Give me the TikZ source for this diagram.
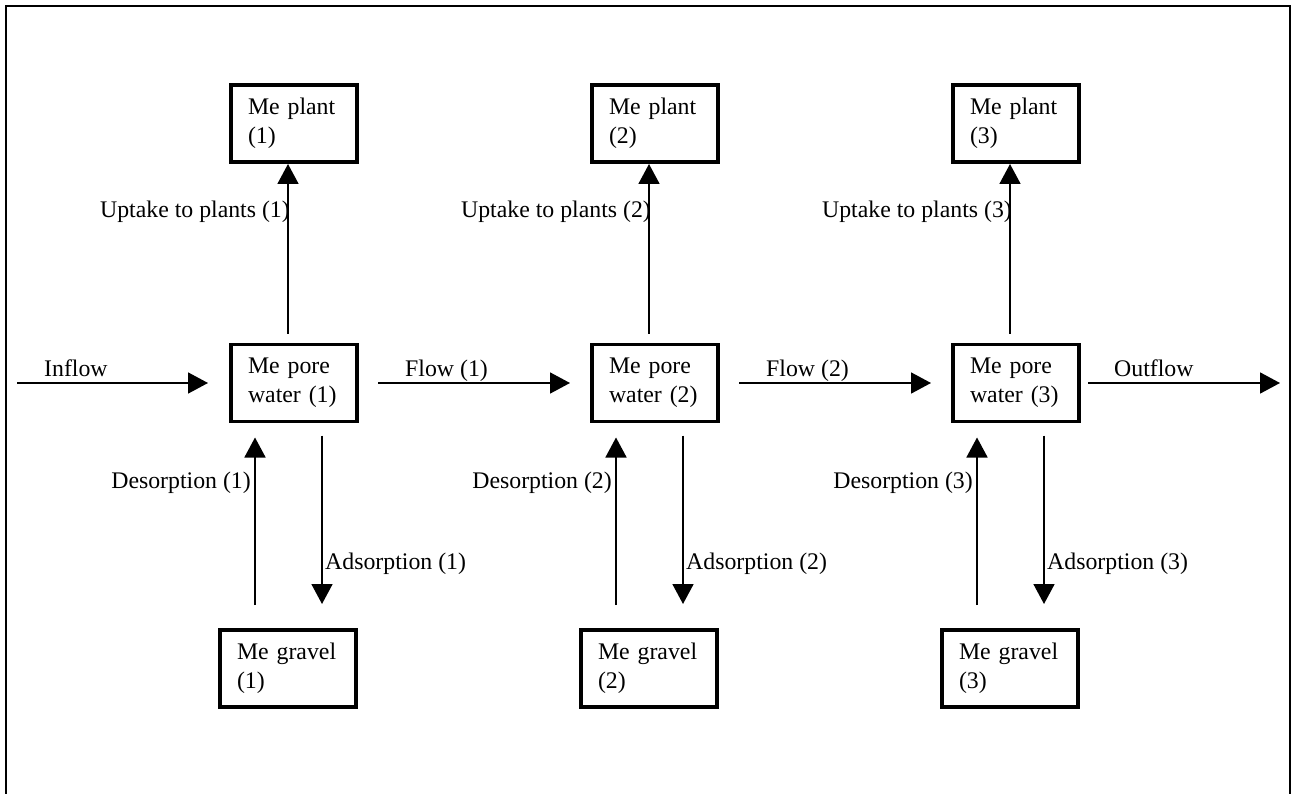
\documentclass[tikz,border=0pt]{standalone}
\usepackage{fontspec}
\setmainfont{Liberation Serif}
\usetikzlibrary{arrows.meta}
\begin{document}
\begin{tikzpicture}[x=1pt,y=-1pt,
  every node/.style={font=\fontsize{23.8}{29}\selectfont},
  plantbox/.style={draw,line width=3.6pt,outer sep=0pt,inner xsep=17pt,inner ysep=0pt,
    text width=92pt,minimum height=77pt,align=left},
  gravelbox/.style={plantbox,text width=102pt},
  arr/.style={line width=1.7pt,-{Triangle[width=21pt,length=20pt]}},
  lbl/.style={inner sep=0pt}]
\useasboundingbox (0,0) rectangle (1292,794);
\draw[line width=2pt] (5.5,794) -- (5.5,6.5) -- (1289.5,6.5) -- (1289.5,794);
\foreach \i/\cx in {1/294,2/655,3/1016}{
  \node[plantbox] (pl\i) at (\cx,123.5) {Me plant\\(\i)};
  \node[plantbox] (pw\i) at (\cx,383) {Me pore\\water (\i)};
  \node[gravelbox] (gr\i) at (\cx-6,668.5) {Me gravel\\(\i)};
  \draw[arr] ([xshift=-6pt,yshift=11pt]pw\i.north) -- ([xshift=-6pt,yshift=-2pt]pl\i.south);
  \draw[arr] ([xshift=-33pt,yshift=25pt]gr\i.north) -- ([xshift=-39pt,yshift=-16pt]pw\i.south);
  \draw[arr] ([xshift=28pt,yshift=-14pt]pw\i.south) -- ([xshift=34pt,yshift=26pt]gr\i.north);
  \node[lbl,anchor=base east] (up\i) at (\cx-4,218) {Uptake to plants (\i)};
  \node[lbl,anchor=base east] (de\i) at (\cx-43,488) {Desorption (\i)};
  \node[lbl,anchor=base west] (ad\i) at (\cx+31,569) {Adsorption (\i)};
}
\coordinate (in) at (17,383);
\coordinate (out) at (1280,383);
\draw[arr] (in) -- ([xshift=-23pt]pw1.west);
\draw[arr] ([xshift=21pt]pw1.east) -- ([xshift=-22pt]pw2.west);
\draw[arr] ([xshift=21pt]pw2.east) -- ([xshift=-22pt]pw3.west);
\draw[arr] ([xshift=9pt]pw3.east) -- (out);
\node[lbl,anchor=base west] (lin) at (44,376) {Inflow};
\node[lbl,anchor=base west] (lf1) at (405,376) {Flow (1)};
\node[lbl,anchor=base west] (lf2) at (766,376) {Flow (2)};
\node[lbl,anchor=base west] (lout) at (1114,376) {Outflow};
\end{tikzpicture}
\end{document}
